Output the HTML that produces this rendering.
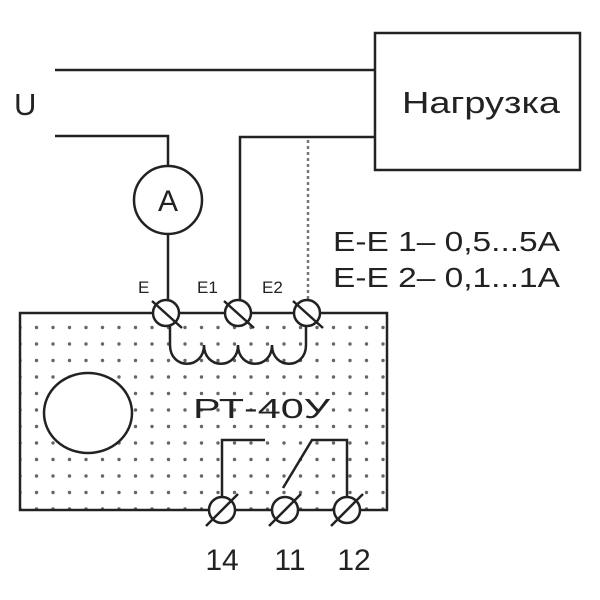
<!DOCTYPE html>
<html><head><style>
body{margin:0;background:#fff;}
svg{display:block;}
text{font-family:"Liberation Sans",sans-serif;fill:#222;}
</style></head><body>
<svg width="600" height="600" viewBox="0 0 600 600">
<defs>
<pattern id="dots" x="12" y="6" width="16.5" height="16.5" patternUnits="userSpaceOnUse">
<circle cx="8" cy="8" r="1.7" fill="#666"/>
</pattern>
</defs>
<rect x="20" y="313" width="367" height="197" fill="#fff"/>
<rect x="20" y="313" width="367" height="197" fill="url(#dots)" stroke="#222" stroke-width="2.5"/>
<ellipse cx="88" cy="413" rx="44" ry="40" fill="#fff" stroke="#222" stroke-width="2.5"/>
<g stroke="#222" stroke-width="2.5" fill="none">
<rect x="375" y="33" width="205" height="137"/>
<line x1="55" y1="70" x2="375" y2="70"/>
<polyline points="55,136 168,136 168,166"/>
<circle cx="168" cy="200" r="34" fill="#fff"/>
<line x1="168" y1="234" x2="168" y2="313"/>
<polyline points="375,137 240,137 240,313"/>
<line x1="308" y1="140" x2="308" y2="313" stroke-dasharray="3,3" stroke="#777"/>
<path d="M170,322 V345 C170,370 204,370 204,345 C204,370 238,370 238,345 C238,370 272,370 272,345 C272,370 306,370 306,345 V322"/>
<polyline points="222,498 222,440 265,440"/>
<polyline points="347,498 347,440 312,440 283,488"/>
</g>
<g stroke="#222" stroke-width="2.5" fill="#fff">
<circle cx="166" cy="313" r="13"/><line x1="152" y1="301" x2="182" y2="328"/>
<circle cx="238" cy="313" r="13"/><line x1="224" y1="301" x2="254" y2="328"/>
<circle cx="307" cy="313" r="13"/><line x1="293" y1="301" x2="323" y2="328"/>
<circle cx="222" cy="510" r="13"/><line x1="206" y1="526" x2="238" y2="494"/>
<circle cx="285" cy="510" r="13"/><line x1="269" y1="526" x2="301" y2="494"/>
<circle cx="347" cy="510" r="13"/><line x1="331" y1="526" x2="363" y2="494"/>
</g>
<text x="14" y="115" font-size="31">U</text>
<text x="402" y="113" font-size="31" textLength="158" lengthAdjust="spacingAndGlyphs">Нагрузка</text>
<text x="168" y="211" font-size="30" text-anchor="middle">A</text>
<text x="138" y="293" font-size="17" fill="#444">E</text>
<text x="197" y="293" font-size="17" fill="#444">E1</text>
<text x="262" y="293" font-size="17" fill="#444">E2</text>
<text x="333" y="251" font-size="28" textLength="227" lengthAdjust="spacingAndGlyphs">E-E 1– 0,5...5A</text>
<text x="333" y="287" font-size="28" textLength="227" lengthAdjust="spacingAndGlyphs">E-E 2– 0,1...1A</text>
<text x="193" y="418" font-size="28" fill="#333" textLength="137" lengthAdjust="spacingAndGlyphs">РТ-40У</text>
<text x="222" y="570" font-size="30" text-anchor="middle">14</text>
<text x="290" y="570" font-size="30" text-anchor="middle">11</text>
<text x="354" y="570" font-size="30" text-anchor="middle">12</text>
</svg>
</body></html>
